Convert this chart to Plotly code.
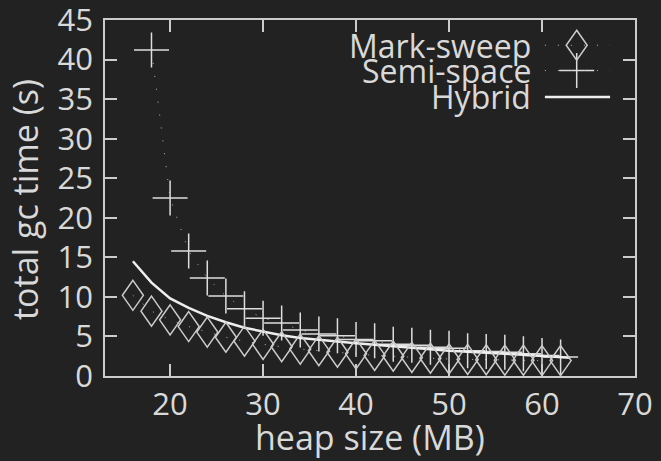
import plotly.graph_objects as go

heap_ms = [16, 18, 20, 22, 24, 26, 28, 30, 32, 34, 36, 38, 40, 42, 44, 46, 48, 50, 52, 54, 56, 58, 60, 62]
mark_sweep = [10.2, 8.2, 7.1, 6.25, 5.55, 4.9, 4.4, 4.0, 3.7, 3.4, 3.2, 3.0, 2.8, 2.6, 2.5, 2.35, 2.25, 2.15, 2.1, 2.05, 2.0, 2.0, 1.95, 1.95]

heap_ss = [18, 20, 22, 24, 26, 28, 30, 32, 34, 36, 38, 40, 42, 44, 46, 48, 50, 52, 54, 56, 58, 60, 62]
semi_space = [41.2, 22.5, 15.8, 12.4, 10.1, 8.5, 7.3, 6.7, 5.8, 5.3, 5.1, 4.6, 4.45, 4.0, 3.9, 3.65, 3.5, 3.2, 3.1, 3.0, 2.8, 2.6, 2.4]

heap_hy = [16, 18, 20, 22, 24, 26, 28, 30, 32, 34, 36, 38, 40, 42, 44, 46, 48, 50, 52, 54, 56, 58, 60, 62, 63]
hybrid = [14.5, 11.8, 9.8, 8.6, 7.6, 6.8, 6.1, 5.6, 5.15, 4.8, 4.55, 4.35, 4.15, 3.95, 3.75, 3.55, 3.4, 3.2, 3.05, 2.9, 2.8, 2.7, 2.55, 2.4, 2.3]

series_names = ["Mark-sweep", "Semi-space", "Hybrid"]
x_ticks = [20, 30, 40, 50, 60, 70]
y_ticks = [0, 5, 10, 15, 20, 25, 30, 35, 40, 45]

BG = "#222222"
FG = "#d9d9d9"
MK = "#cccccc"
FONT = "Open Sans"
FS_TICK = 31
FS_LEG = 32
FS_TITLE = 34

# gnuplot-like diamond: 21 px wide, 30 px tall (pixel path around anchor)
DIAMOND = "M 0,15 L 10.5,0 L 0,-15 L -10.5,0 Z"

fig = go.Figure()
fig.add_trace(go.Scatter(x=heap_ms, y=mark_sweep, mode="lines", name=series_names[0],
                         line=dict(color="#bbbbbb", width=1, dash="1px,12px")))
fig.add_trace(go.Scatter(x=heap_ss, y=semi_space, mode="lines+markers", name=series_names[1],
                         line=dict(color="#bbbbbb", width=1, dash="1px,12px"),
                         marker=dict(symbol="cross-thin-open", size=25, color="#dddddd",
                                     line=dict(color="#dddddd", width=1.5))))
fig.add_trace(go.Scatter(x=heap_hy, y=hybrid, mode="lines", name=series_names[2],
                         line=dict(color="#eeeeee", width=2.5)))

shapes = []
for xv, yv in zip(heap_ms, mark_sweep):
    shapes.append(dict(type="path", xref="x", yref="y", xsizemode="pixel", ysizemode="pixel",
                       xanchor=xv, yanchor=yv, path=DIAMOND,
                       line=dict(color=MK, width=1.5), fillcolor="rgba(0,0,0,0)"))

# legend (gnuplot-style: text on the left, sample on the right) on an overlay axis
leg_y = [0.929, 0.858, 0.784]
leg_x0, leg_xm, leg_x1 = 0.83, 0.89, 0.953
shapes.append(dict(type="path", xref="x2", yref="y2", xsizemode="pixel", ysizemode="pixel",
                   xanchor=leg_xm, yanchor=leg_y[0], path=DIAMOND,
                   line=dict(color=MK, width=1.5), fillcolor="rgba(0,0,0,0)"))
fig.add_trace(go.Scatter(x=[leg_xm], y=[leg_y[1]], xaxis="x2", yaxis="y2", mode="markers",
                         marker=dict(symbol="cross-thin-open", size=25, color="#dddddd",
                                     line=dict(color="#dddddd", width=1.5)), showlegend=False,
                         hoverinfo="skip"))
for i in range(2):
    fig.add_trace(go.Scatter(x=[leg_x0, leg_x1], y=[leg_y[i], leg_y[i]], xaxis="x2", yaxis="y2",
                             mode="lines", line=dict(color="#bbbbbb", width=1, dash="1px,12px"),
                             showlegend=False, hoverinfo="skip"))
fig.add_trace(go.Scatter(x=[leg_x0, leg_x1], y=[leg_y[2], leg_y[2]], xaxis="x2", yaxis="y2",
                         mode="lines", line=dict(color="#eeeeee", width=2.5),
                         showlegend=False, hoverinfo="skip"))

annotations = []
for name, yy in zip(series_names, leg_y):
    annotations.append(dict(text=name, x=0.807, y=yy, xref="paper", yref="paper",
                            xanchor="right", yanchor="middle", showarrow=False,
                            font=dict(family=FONT, size=FS_LEG, color=FG)))
annotations.append(dict(text="heap size (MB)", x=0.5, y=0, xref="paper", yref="paper",
                        xanchor="center", yanchor="middle", yshift=-61, showarrow=False,
                        font=dict(family=FONT, size=FS_TITLE, color=FG)))
annotations.append(dict(text="total gc time (s)", x=0, y=0.5, xref="paper", yref="paper",
                        xanchor="center", yanchor="middle", xshift=-80, yshift=-2, textangle=-90,
                        showarrow=False, font=dict(family=FONT, size=FS_TITLE, color=FG)))

axis_common = dict(showgrid=False, zeroline=False, showline=True, linecolor=MK, linewidth=1.5,
                   ticks="inside", ticklen=12, tickwidth=1.5, tickcolor=MK, mirror="allticks",
                   ticklabeloverflow="allow", automargin=False,
                   tickfont=dict(family=FONT, size=FS_TICK, color=FG))

fig.update_layout(
    width=661, height=461,
    margin=dict(l=105, r=26, t=20, b=85),
    paper_bgcolor=BG, plot_bgcolor=BG,
    showlegend=False,
    xaxis=dict(range=[13, 70.001], tickvals=x_ticks, **axis_common),
    yaxis=dict(range=[0, 45.001], tickvals=y_ticks, ticklabelstandoff=4, **axis_common),
    xaxis2=dict(range=[0, 1], overlaying="x", visible=False),
    yaxis2=dict(range=[0, 1], overlaying="y", visible=False),
    annotations=annotations,
    shapes=shapes,
)

fig.write_html("out.html", config={"displayModeBar": False},
               post_script="document.body.style.margin='0';")
